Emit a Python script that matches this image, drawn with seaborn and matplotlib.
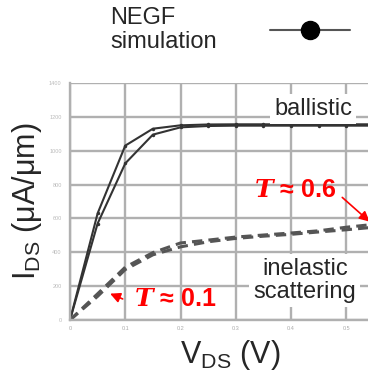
import matplotlib
matplotlib.use("Agg")
import matplotlib.pyplot as plt
from matplotlib.lines import Line2D
import numpy as np
import pandas as pd
import seaborn as sns

# ---- data ----
vds = [0.0, 0.05, 0.10, 0.15, 0.20, 0.25, 0.30, 0.35, 0.40, 0.45, 0.50, 0.55]
ballistic_a = [0, 630, 1030, 1130, 1150, 1155, 1156, 1156, 1156, 1156, 1156, 1156]
ballistic_b = [0, 570, 925, 1095, 1138, 1146, 1148, 1148, 1148, 1148, 1148, 1148]
inelastic_a = [0, 155, 312, 398, 455, 472, 490, 502, 514, 527, 548, 565]
inelastic_b = [0, 140, 298, 385, 432, 462, 482, 495, 506, 520, 533, 548]
x_ticks = [0, 0.1, 0.2, 0.3, 0.4, 0.5]
x_tick_labels = ["0", "0.1", "0.2", "0.3", "0.4", "0.5"]
y_ticks = [0, 200, 400, 600, 800, 1000, 1200, 1400]
y_tick_labels = ["0", "200", "400", "600", "800", "1000", "1200", "1400"]

sns.set_style("white")
plt.rcParams['font.family'] = ['Liberation Sans', 'DejaVu Sans']
plt.rcParams['mathtext.fontset'] = 'custom'
plt.rcParams['mathtext.rm'] = 'Liberation Sans'
plt.rcParams['mathtext.it'] = 'DejaVu Serif:italic:bold'
plt.rcParams['mathtext.bf'] = 'Liberation Sans:bold'

df = pd.DataFrame({
    "VDS": vds * 4,
    "IDS": ballistic_a + ballistic_b + inelastic_a + inelastic_b,
    "curve": ["ba"] * 12 + ["bb"] * 12 + ["ia"] * 12 + ["ib"] * 12,
})

fig = plt.figure(figsize=(3.68, 3.81), dpi=100)
ax = fig.add_axes([70 / 368, 1 - 320 / 381, 1 - 70 / 368 + 0.01, 237 / 381])

grid_c = "#b0b0b0"
ax.set_xlim(0, 0.546)
ax.set_ylim(0, 1400)
ax.set_xticks(x_ticks)
ax.set_xticklabels(x_tick_labels, fontsize=4, color="#aaaaaa")
ax.set_yticks(y_ticks)
ax.set_yticklabels(y_tick_labels, fontsize=4, color="#bbbbbb")
ax.grid(True, color=grid_c, lw=1.7)
ax.set_axisbelow(True)
for s in ["top", "right"]:
    ax.spines[s].set_visible(False)
for s in ["left", "bottom"]:
    ax.spines[s].set_color(grid_c)
    ax.spines[s].set_linewidth(1.7)
ax.tick_params(axis="y", length=5, width=2.5, color="#c8c8c8", pad=1)
ax.tick_params(axis="x", length=2, width=1, color="#c8c8c8", pad=2)

for name in ["ba", "bb"]:
    sub = df[df.curve == name]
    sns.lineplot(data=sub, x="VDS", y="IDS", ax=ax, color="#333333", lw=1.5,
                 marker="o", markersize=2.5, markeredgewidth=0)
for name in ["ia", "ib"]:
    sub = df[df.curve == name]
    sns.lineplot(data=sub, x="VDS", y="IDS", ax=ax, color="#555555", lw=2.2,
                 dashes=(3.4, 2))

ax.set_xlabel(r"V$_{\mathrm{DS}}$ (V)", fontsize=22)
ax.set_ylabel(r"I$_{\mathrm{DS}}$ (μA/μm)", fontsize=22)
ax.xaxis.set_label_coords(0.53, -0.075)
ax.yaxis.set_label_coords(-0.085, 0.50)

# text boxes
ax.text(0.44, 1247, "ballistic", fontsize=17, ha="center", va="center",
        bbox=dict(facecolor="white", edgecolor="none", pad=3))
ax.text(0.425, 235, "inelastic\nscattering", fontsize=17, ha="center", va="center",
        linespacing=1.05, bbox=dict(facecolor="white", edgecolor="none", pad=3))

red = "#ff0000"
ax.text(0.407, 765, r"$\mathit{T}$ ≈ 0.6", fontsize=18, color=red, fontweight="bold",
        ha="center", va="center")
ax.annotate("", xy=(0.546, 570), xytext=(0.489, 735),
            arrowprops=dict(arrowstyle="-|>", color=red, lw=1.2, mutation_scale=15))
ax.text(0.19, 125, r"$\mathit{T}$ ≈ 0.1", fontsize=18, color=red, fontweight="bold",
        ha="center", va="center")
ax.annotate("", xy=(0.068, 162), xytext=(0.1, 118),
            arrowprops=dict(arrowstyle="-|>", color=red, lw=1.2, mutation_scale=15))

# legend-like header
fig.text(110 / 368, 1 - 7 / 381, "NEGF\nsimulation", fontsize=17, ha="left", va="top",
         linespacing=1.1)
fig.add_artist(Line2D([270 / 368, 350 / 368], [1 - 30 / 381, 1 - 30 / 381],
                      transform=fig.transFigure, color="#555555", lw=1.5))
fig.add_artist(Line2D([310 / 368], [1 - 30 / 381], transform=fig.transFigure,
                      marker="o", markersize=13, color="black"))

fig.savefig("out.png", dpi=100)
